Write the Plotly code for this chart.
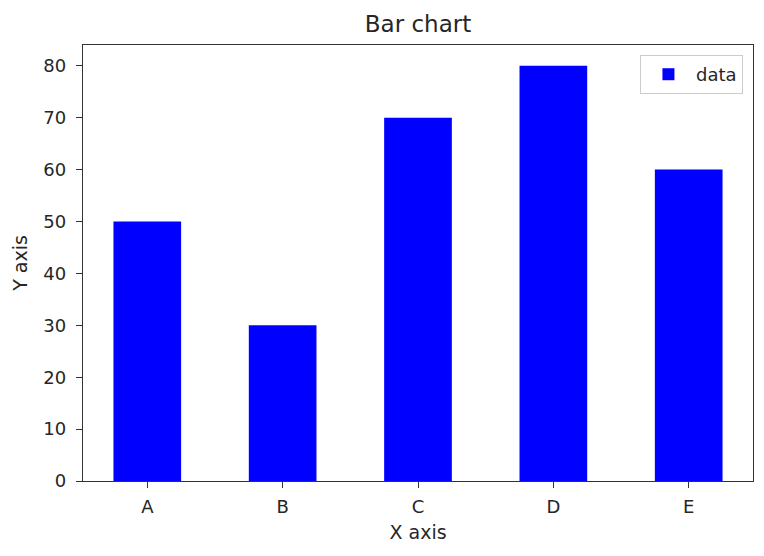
import plotly.graph_objects as go

categories = ["A", "B", "C", "D", "E"]
values = [50, 30, 70, 80, 60]

FONT = "DejaVu Sans"
TXT = "#262626"

fig = go.Figure()
fig.add_trace(go.Bar(x=categories, y=values, name="data", width=0.5,
                     marker=dict(color="#0000ff", line=dict(width=0)),
                     showlegend=True))

axis_common = dict(showline=True, linecolor="#333333", linewidth=1.3, mirror=True,
                   ticks="outside", ticklen=6, tickcolor="#333333", tickwidth=1.3,
                   showgrid=False, zeroline=False, automargin=False,
                   tickfont=dict(family=FONT, size=18, color=TXT))

# page body has an 8px margin; figure sized to fit the 764x556 window
fig.update_layout(
    width=748, height=540,
    paper_bgcolor="white", plot_bgcolor="white",
    margin=dict(l=75, r=3, t=37, b=67, autoexpand=False),
    title=dict(text="Bar chart", x=0.5, xanchor="center", xref="paper",
               y=0.970, yref="container", yanchor="middle",
               font=dict(family=FONT, size=23, color=TXT)),
    xaxis=dict(title=dict(text="X axis", standoff=9,
                          font=dict(family=FONT, size=19, color=TXT)),
               range=[-0.475, 4.475], ticklabelstandoff=3, **axis_common),
    yaxis=dict(title=dict(text="Y axis", standoff=10,
                          font=dict(family=FONT, size=19, color=TXT)),
               range=[0, 84], dtick=10, ticklabelstandoff=6, **axis_common),
    legend=dict(x=0.985, y=0.977, xanchor="right", yanchor="top",
                bordercolor="#cccccc", borderwidth=1, bgcolor="rgba(255,255,255,0.8)",
                itemwidth=45,
                font=dict(family=FONT, size=18, color=TXT)),
    bargap=0.5,
)

fig.write_html("out.html")
